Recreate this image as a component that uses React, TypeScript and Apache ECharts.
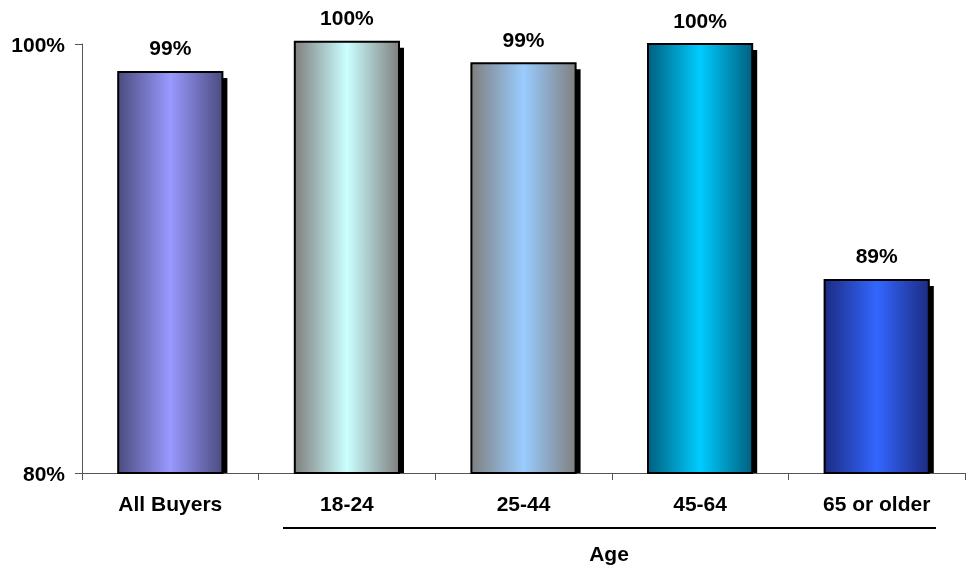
import React, { useEffect, useRef } from 'react';
import * as echarts from 'echarts';

const categories = ['All Buyers', '18-24', '25-44', '45-64', '65 or older'];
const values = [98.7, 100.1, 99.1, 100.0, 89.0];
const edgeColors = ['#4c4c80', '#808080', '#808080', '#006080', '#1c2c82'];
const centerColors = ['#9999ff', '#ccffff', '#99ccff', '#00ccff', '#3366ff'];
const yMin = 80;
const yMax = 100;
const yStep = 20;
const groupTitle = 'Age';

const FONT = '"Liberation Sans", Arial, Helvetica, sans-serif';

export default function App() {
  const ref = useRef<HTMLDivElement>(null);
  useEffect(() => {
    const chart = echarts.init(ref.current!, null, { renderer: 'svg' });
    chart.setOption({
      animation: false,
      grid: { left: 82, right: 1, top: 44, bottom: 98, containLabel: false },
      xAxis: {
        type: 'category',
        data: categories,
        axisLine: { show: true, lineStyle: { color: '#555', width: 1 } },
        axisTick: { show: true, length: 7, lineStyle: { color: '#555' } },
        axisLabel: { color: '#000', fontWeight: 'bold', fontSize: 21, fontFamily: FONT, margin: 20 },
        splitLine: { show: false },
      },
      yAxis: {
        type: 'value',
        min: yMin,
        max: yMax,
        interval: yStep,
        axisLine: { show: true, lineStyle: { color: '#555', width: 1 } },
        axisTick: { show: true, length: 7, lineStyle: { color: '#555' } },
        axisLabel: { formatter: '{value}%', color: '#000', fontWeight: 'bold', fontSize: 21, fontFamily: FONT, margin: 17 },
        splitLine: { show: false },
      },
      series: [
        {
          type: 'custom',
          clip: false,
          data: values.map((v, i) => [i, v]),
          renderItem: (params: any, api: any) => {
            const i = api.value(0);
            const v = api.value(1);
            const top = api.coord([i, v]);
            const base = api.coord([i, yMin]);
            const bw = api.size([1, 0])[0] * 0.59;
            const x = top[0] - bw / 2;
            const h = base[1] - top[1];
            return {
              type: 'group',
              children: [
                {
                  type: 'rect',
                  shape: { x: x + 5, y: top[1] + 6, width: bw, height: h - 6 },
                  style: { fill: '#000' },
                },
                {
                  type: 'rect',
                  shape: { x, y: top[1], width: bw, height: h },
                  style: {
                    fill: new echarts.graphic.LinearGradient(0, 0, 1, 0, [
                      { offset: 0, color: edgeColors[i] },
                      { offset: 0.5, color: centerColors[i] },
                      { offset: 1, color: edgeColors[i] },
                    ]),
                    stroke: '#000',
                    lineWidth: 2,
                  },
                },
                {
                  type: 'text',
                  x: top[0],
                  y: top[1] - 24,
                  style: {
                    text: Math.round(v) + '%',
                    fill: '#000',
                    font: `bold 21px ${FONT}`,
                    align: 'center',
                    verticalAlign: 'middle',
                  },
                },
              ],
            };
          },
        },
      ],
      graphic: [
        {
          type: 'line',
          shape: { x1: 283, y1: 528, x2: 936, y2: 528 },
          style: { stroke: '#000', lineWidth: 2 },
        },
        {
          type: 'text',
          x: 609,
          y: 553,
          style: {
            text: groupTitle,
            fill: '#000',
            font: `bold 21px ${FONT}`,
            align: 'center',
            verticalAlign: 'middle',
          },
        },
      ],
    });
    return () => chart.dispose();
  }, []);
  return <div ref={ref} style={{ position: 'fixed', left: 0, top: 0, width: 966, height: 571 }} />;
}
